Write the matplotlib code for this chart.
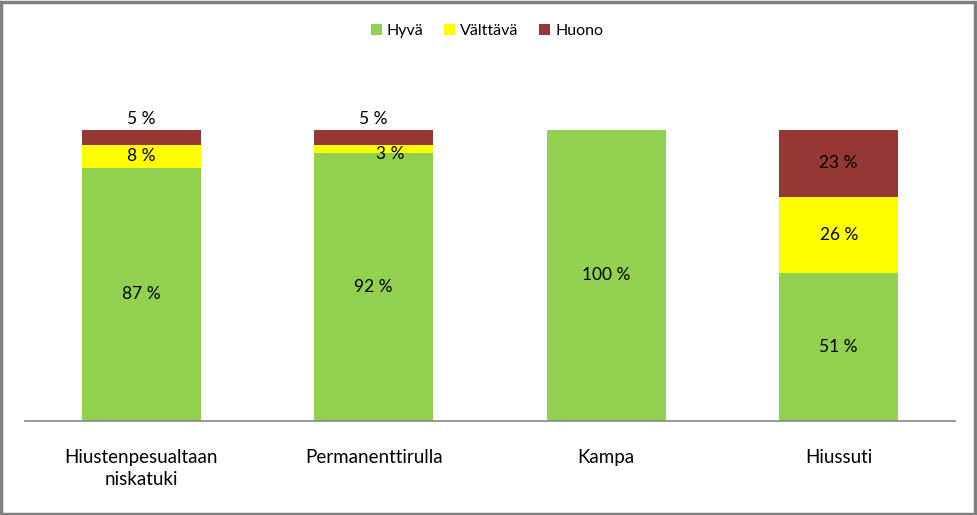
import numpy as np
import matplotlib
matplotlib.use("Agg")
import matplotlib.pyplot as plt
from matplotlib.patches import Rectangle, Patch

plt.rcParams['font.family'] = ['Lato', 'DejaVu Sans']

categories = ["Hiustenpesualtaan\nniskatuki", "Permanenttirulla", "Kampa", "Hiussuti"]
hyva = [87, 92, 100, 51]
valttava = [8, 3, 0, 26]
huono = [5, 5, 0, 23]
series_names = ["Hyvä", "Välttävä", "Huono"]
colors = ["#92D050", "#FFFF00", "#953735"]

fig = plt.figure(figsize=(9.78, 5.15), dpi=100)
fig.patch.set_facecolor("white")
ax = fig.add_axes([25 / 978, 94 / 515, 930 / 978, 291 / 515])

x = np.arange(len(categories))
width = 0.51
bottom = np.zeros(len(categories))
for name, vals, col in zip(series_names, [hyva, valttava, huono], colors):
    vals = np.array(vals, dtype=float)
    ax.bar(x, vals, width, bottom=bottom, color=col, label=name, zorder=2)
    for i, v in enumerate(vals):
        if v <= 0:
            continue
        if name == "Huono" and v <= 5:
            ax.text(x[i], bottom[i] + v + 1.2, f"{v:.0f} %", ha="center", va="bottom", fontsize=12.5)
        elif v < 5:
            # small segment: label drifts right and down like the original
            ax.text(x[i] + 0.07, bottom[i] + v / 2 - 1.7, f"{v:.0f} %", ha="center", va="center", fontsize=12.5)
        else:
            ax.text(x[i], bottom[i] + v / 2, f"{v:.0f} %", ha="center", va="center", fontsize=12.5)
    bottom += vals

ax.set_xlim(-0.5, len(categories) - 0.5)
ax.set_ylim(0, 100)
ax.set_xticks(x)
ax.set_xticklabels(categories, fontsize=13.5, linespacing=1.35, va="top")
ax.tick_params(axis="x", length=0, pad=20)
ax.set_yticks([])
for s in ["top", "left", "right"]:
    ax.spines[s].set_visible(False)
ax.spines["bottom"].set_color("#878787")
ax.spines["bottom"].set_linewidth(1.2)

handles = [Patch(facecolor=c, label=n) for n, c in zip(series_names, colors)]
fig.legend(handles=handles, loc="center", bbox_to_anchor=(487 / 978, 1 - 31 / 515), ncol=3,
           frameon=False, fontsize=11.5, handlelength=0.7, handleheight=0.7,
           handletextpad=0.3, columnspacing=1.3)

# chart frame with shadow
fig.patches.append(Rectangle((0.001, 0.002), 0.996, 0.995, transform=fig.transFigure,
                             fill=False, edgecolor="#808080", linewidth=2.5, zorder=10))

fig.savefig("out.png", dpi=100, facecolor="white")
